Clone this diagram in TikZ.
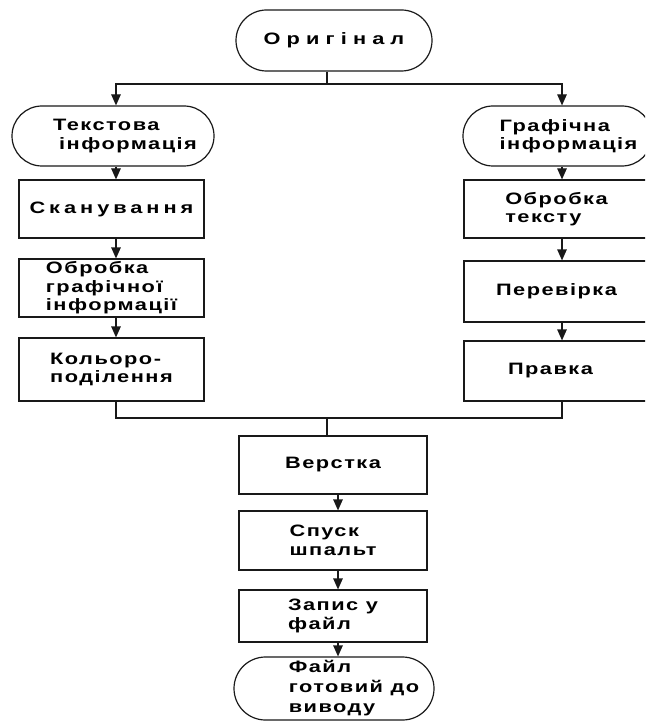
\documentclass[tikz,border=0pt]{standalone}
\usepackage{fontspec}
\newfontfamily\dfont{Liberation Sans}[FakeStretch=1.32,LetterSpace=9]
\usetikzlibrary{arrows.meta}
\begin{document}
\begin{tikzpicture}[x=1pt,y=-1pt,
  base/.style={draw=black!90, line width=1.2pt, font=\dfont\bfseries\fontsize{16.5}{18.5}\selectfont, align=left, inner sep=0pt},
  box/.style={base, rectangle, minimum width=185pt},
  term/.style={base, rectangle},
  arr/.style={draw=black!90, line width=1.2pt, -{Triangle[length=11pt,width=9.5pt]}},
  ln/.style={draw=black!90, line width=1.2pt}]
\useasboundingbox (0,0) rectangle (645,722);
\clip (0,0) rectangle (645,722);
\fill[white] (0,0) rectangle (645,722);

% column coordinates
\coordinate (lc) at (116,0);
\coordinate (rc) at (562,0);
\coordinate (tc) at (327,84);
\coordinate (cc) at (338,0);
\coordinate (j) at (327,418);

% nodes
\node[term, rounded corners=30.5pt, minimum width=196pt, minimum height=61pt] (orig) at (334,40.5)
  {\addfontfeature{LetterSpace=37}Оригінал};
\node[term, rounded corners=30pt, minimum width=202pt, minimum height=60pt] (text) at (113,136)
  {\hspace*{24pt}Текстова\\\hspace*{30pt}інформація};
\node[term, rounded corners=30pt, minimum width=189pt, minimum height=60pt] (graph) at (557.5,136)
  {\hspace*{22pt}Графічна\\\hspace*{22pt}інформація};

\node[box, minimum height=58pt] (scan) at (111.5,209) {\addfontfeature{LetterSpace=24}Сканування};
\node[box, minimum height=58pt] (obg) at (111.5,288) {Обробка\\графічної\\інформації};
\node[box, minimum height=63pt] (kol) at (111.5,369.5) {Кольоро-\\поділення};

\node[box, minimum height=58pt] (obt) at (556.5,209) {Обробка\\тексту};
\node[box, minimum height=61pt] (per) at (556.5,291.5) {Перевірка};
\node[box, minimum height=60pt] (prav) at (556.5,371) {\hspace*{-12pt}Правка};

\node[box, minimum width=188pt, minimum height=58pt] (verst) at (333,465) {Верстка};
\node[box, minimum width=188pt, minimum height=59pt] (spusk) at (333,540.5) {Спуск\\шпальт};
\node[box, minimum width=188pt, minimum height=52pt] (zapys) at (333,616) {Запис у\\файл};
\node[term, rounded corners=31.5pt, minimum width=200pt, minimum height=63pt,
  font=\dfont\bfseries\fontsize{16.5}{20}\selectfont] (fin) at (334,688.5)
  {\hspace*{40pt}Файл\\\hspace*{40pt}готовий до\\\hspace*{40pt}виводу};

% connectors
\draw[ln] (orig.south -| tc) -- (tc);
\draw[arr] (tc) -| (text.north -| lc);
\draw[arr] (tc) -| (graph.north -| rc);

\draw[arr] (text.south -| lc) -- (scan.north -| lc);
\draw[arr] (scan.south -| lc) -- (obg.north -| lc);
\draw[arr] (obg.south -| lc) -- (kol.north -| lc);

\draw[arr] (graph.south -| rc) -- (obt.north -| rc);
\draw[arr] (obt.south -| rc) -- (per.north -| rc);
\draw[arr] (per.south -| rc) -- (prav.north -| rc);

\draw[ln] (kol.south -| lc) |- (j) -| (prav.south -| rc);
\draw[ln] (j) -- (verst.north -| j);

\draw[arr] (verst.south -| cc) -- (spusk.north -| cc);
\draw[arr] (spusk.south -| cc) -- (zapys.north -| cc);
\draw[arr] (zapys.south -| cc) -- (fin.north -| cc);
\end{tikzpicture}
\end{document}
